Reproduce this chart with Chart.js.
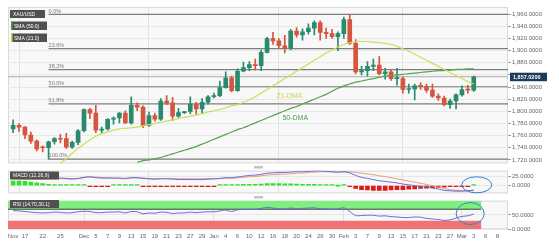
<!DOCTYPE html>
<html>
<head>
<meta charset="utf-8">
<script src="https://cdn.jsdelivr.net/npm/chart.js@4"></script>
<style>
html, body { margin: 0; padding: 0; background: #fff; }
#wrap { position: relative; width: 559px; height: 242px; overflow: hidden; }
canvas { position: absolute; left: 0; }
</style>
</head>
<body>
<div id="wrap">
  <canvas id="mainChart" width="559" height="168" style="top:0"></canvas>
  <canvas id="macdChart" width="559" height="32" style="top:166px"></canvas>
  <canvas id="rsiChart" width="559" height="46" style="top:196px"></canvas>
</div>
<script>
// daily candles, Nov 15 .. Mar 3 (weekdays)
const opens  = [1771,1777,1774,1761,1751,1741,1740,1750,1755,1755,1741,1749,
                1768,1803,1797,1769,1771,1787,1789,1797,1781,1810,1807,1777,1793,1787,1817,1814,1792,1798,1800,1812,1804,1815,
                1824,1826,1839,1855,1834,1866,1872,1877,1875,1897,1920,1916,1908,1904,1932,1926,1931,1937,1946,1930,1928,1923,
                1928,1951,1912,1865,1867,1874,1876,1862,1865,1854,1854,1836,1837,1842,1841,1835,1825,1822,1811,1817,
                1827,1836,1835];
const highs  = [1786,1780,1775,1766,1753,1743,1751,1757,1762,1764,1751,1770,
                1804,1805,1810,1774,1788,1791,1798,1801,1824,1814,1809,1799,1797,1821,1826,1823,1805,1800,1824,1815,1821,1826,
                1830,1850,1865,1858,1870,1881,1882,1886,1901,1922,1930,1920,1925,1935,1938,1936,1944,1949,1949,1937,1935,1931,
                1955,1959.7,1918,1874,1882,1886,1890,1871,1868,1871,1857,1845,1845,1847,1845,1845,1829,1825,1820,1829,
                1842,1843,1858];
const lows   = [1765,1767,1755,1747,1735,1733,1721.4,1746,1748,1739,1739,1745,
                1766,1788,1765,1765,1769,1779,1781,1780,1779,1801,1773,1775,1784,1785,1811,1785,1790,1796,1796,1795,1797,1812,
                1822,1824,1838,1832,1833,1865,1867,1868,1867,1896,1910,1905,1896,1901,1922,1917,1927,1926,1917,1920,1920,1900,
                1920,1910,1862,1860,1858,1867,1860,1853,1851,1843,1830,1830,1819,1836,1831,1823,1818,1809,1805,1804,
                1825,1830,1833];
const closes = [1777,1774,1761,1751,1738,1740,1750,1755,1754,1741,1749,1768,
                1803,1797,1769,1771,1787,1789,1797,1781,1810,1807,1777,1793,1787,1817,1814,1792,1798,1798,1812,1804,1815,1824,
                1826,1839,1855,1834,1866,1872,1877,1875,1897,1920,1916,1908,1904,1932,1926,1931,1937,1946,1930,1928,1923,1928,
                1951,1912,1865,1867,1874,1876,1862,1865,1854,1854,1836,1837,1842,1841,1835,1825,1822,1811,1817,1827,
                1836,1835,1857];

const sma21 = [null,null,null,null,null,null,null,null,1714,1722,1731,1739,
               1746,1753,1759,1763,1766,1769,1771,1772,1773,1774,1776,1778,1780,1782,1784,1786,1788,1790,1792,1794,1796,1799,
               1801,1803,1806,1809,1811,1815,1819,1824,1830,1836,1842,1848,1854,1860,1866,1872,1878,1884,1890,1896,1901,1906,
               1910,1913,1915,1915,1915,1914,1913,1912,1910,1907,1903,1899,1894,1889,1884,1879,1874,1869,1864,1859,
               1854,1849,1845];
const sma50 = [null,null,null,null,null,null,null,null,null,null,null,null,
               null,null,null,null,null,null,null,null,null,1716,1719,1720,1722,1724,1727,1730,1733,1736,1739,1742,1746,1750,
               1754,1758,1762,1766,1770,1773,1777,1781,1785,1789,1793,1797,1801,1805,1808,1812,1816,1820,1824,1828,1833,1838,
               1842,1845,1848,1850,1852,1854,1856,1858,1859,1860,1861,1862,1863,1864,1865,1866,1867,1867,1868,1869,
               1869,1870,1870];

const fibNames  = ['0.0%', '23.6%', '38.2%', '50.0%', '61.8%', '100.0%'];
const fibLevels = [1959.7, 1903.4, 1868.7, 1840.5, 1812.4, 1721.4];
const fibFromBar = 6;
const lastPrice = 1857.02;

const macdLine   = [30,30,28,26,24,22,21,20,20,19,18,19,
                    22,23,21,20,20,20,20,19,21,21,19,18,17,18,18,17,16,16,16,16,16,17,
                    18,19,21,21,23,25,27,28,30,33,34,35,35,36,37,37,38,39,39,38,37,36,
                    37,34,27,22,19,16,13,11,9,7,4,2,0,-2,-4,-7,-9,-13,-14,-15,
                    -15,-14,-12];
const signalLine = [18,18,17,17,17,17,18,18,18.5,18,17,18.5,
                    21,24,22.5,21.5,21,19.5,19,18,20,20.5,20,19,18.5,18.5,19,19,18.5,18.5,18.5,18,18,18.5,
                    18.5,18.5,19.5,19.5,20.5,22,23.5,24.5,26,28,29,30,30.5,31.5,33,33.5,35,36,37,37,36.5,36,
                    36.5,37,35,33,31,29,26,24,21,18,15,12,9,6,3,-1,-4,-8,-11,-13,
                    -13.5,-13.5,-13.5];
const macdHist   = [12,12,11,9,7,5,3,2,1.5,1,1,0.5,
                    1,-1,-1.5,-1.5,-1,0.5,1,1,1,0.5,-1,-1,-1.5,-0.5,-1,-2,-2.5,-2.5,-2.5,-2,-2,-1.5,
                    -0.5,0.5,1.5,1.5,2.5,3,3.5,3.5,4,5,5,5,4.5,4.5,4,3.5,3,3,2,1,0.5,0,
                    0.5,-3,-8,-11,-12,-13,-13,-13,-12,-11,-11,-10,-9,-8,-7,-6,-5,-4,-3,-2,
                    -1.5,-0.5,1.5];
const rsi        = [65,64,62,60,58,57,58,60,59,57,58,61,
                    63,62,58,58,60,60,61,57,62,61,54,57,56,60,59,55,57,57,60,58,60,61,
                    61,64,67,62,68,69,70,69,73,76,74,72,71,74,72,73,74,75,71,71,70,71,
                    75,62,48,48,49,49,46,47,44,43,41,41,43,42,38,36,34,31,33,39,
                    45,47,53];

const priceTicks = [1720,1740,1760,1780,1800,1820,1840,1860,1880,1900,1920,1940,1960];
const macdTicks = [0, 25];
const rsiTicks = [0, 50];
const tickText = ['Nov','17','22','25','Dec','5','7','9','13','15','19','21','23','27','29',
                  'Jan','4','6','10','12','16','18','20','24','26','30',
                  'Feb','3','7','9','13','15','17','21','23','27','Mar','3','6','8'];
const tickBar  = [0,2,5,8,12,14,16,18,20,22,24,26,28,30,32,34,36,38,40,42,44,46,48,50,52,54,
                  56,58,60,62,64,66,68,70,72,74,76,78,80,82];
const monthBars = [12, 34, 56, 76];

const X_MIN = -0.87, X_MAX = 83.8;
const GREEN = '#2a8a6c', RED = '#d6553f';
const FONT = '"Liberation Sans", Arial, sans-serif';
Chart.defaults.font.family = FONT;
Chart.defaults.font.size = 6;
Chart.defaults.color = '#666';
Chart.defaults.animation = false;

const bars = closes.map((c, i) => i);
const fmt = v => Number(v).toLocaleString('en-US', {minimumFractionDigits: 4, maximumFractionDigits: 4});

function xScale(showTicks) {
  return {
    type: 'linear', min: X_MIN, max: X_MAX, offset: false,
    afterBuildTicks: s => { s.ticks = (showTicks ? tickBar : monthBars).map(v => ({value: v})); },
    afterFit: s => { s.height = showTicks ? 10 : 0; },
    ticks: {
      display: showTicks, autoSkip: false, maxRotation: 0, padding: 3, color: '#666',
      callback: (v, k) => tickText[k]
    },
    grid: {
      drawTicks: false,
      color: c => (c.tick && monthBars.includes(c.tick.value)) ? '#e2e2e2' : 'rgba(0,0,0,0)'
    },
    border: { display: false }
  };
}
function yScale(min, max, list) {
  return {
    position: 'right', min, max,
    afterBuildTicks: s => { s.ticks = list.map(v => ({value: v})); },
    afterFit: s => { s.width = 51; },
    ticks: { padding: 1, color: '#666', callback: v => fmt(v) },
    grid: { color: '#e8e8e8', tickLength: 3, tickColor: '#999' },
    border: { display: false }
  };
}
const panelBg = {
  id: 'panelBg',
  beforeDraw(chart) {
    const a = chart.chartArea, ctx = chart.ctx;
    ctx.save();
    ctx.fillStyle = '#f8f8f8';
    ctx.fillRect(a.left, a.top, a.right - a.left, a.bottom - a.top);
    ctx.strokeStyle = '#d9d9d9';
    ctx.lineWidth = 1;
    ctx.strokeRect(a.left + 0.5, a.top + 0.5, a.right - a.left - 1, a.bottom - a.top - 1);
    ctx.restore();
  }
};
function tag(ctx, text, x, y, w, h, bg, mark) {
  ctx.fillStyle = bg;
  ctx.fillRect(x, y, w, h);
  if (mark) { ctx.fillStyle = mark; ctx.fillRect(x, y, 1.5, h); }
  ctx.fillStyle = '#fff';
  ctx.textAlign = 'left';
  ctx.textBaseline = 'middle';
  ctx.fillText(text, x + 3, y + h / 2 + 0.5);
}
function handle(ctx) {
  ctx.fillStyle = '#c4c4c4';
  ctx.fillRect(254, 0, 9, 2.5);
}

// ---------- main price panel ----------
const mainOverlay = {
  id: 'mainOverlay',
  afterDraw(chart) {
    const ctx = chart.ctx, x = chart.scales.x, y = chart.scales.y, a = chart.chartArea;
    ctx.save();
    ctx.font = '5.5px ' + FONT;
    ctx.fillStyle = '#7a7a7a';
    ctx.textAlign = 'left';
    ctx.textBaseline = 'bottom';
    fibLevels.forEach((v, k) => {
      ctx.fillText(fibNames[k], x.getPixelForValue(fibFromBar), y.getPixelForValue(v) - 0.5);
    });
    ctx.font = '7px ' + FONT;
    ctx.fillStyle = '#c2dc4a';
    ctx.fillText('21-DMA', x.getPixelForValue(44.6), y.getPixelForValue(1820));
    ctx.fillStyle = '#4e9e48';
    ctx.fillText('50-DMA', x.getPixelForValue(45.6), y.getPixelForValue(1783));
    ctx.font = '5px ' + FONT;
    tag(ctx, 'XAU/USD', a.left + 2, 10, 35, 8, '#505050');
    tag(ctx, 'SMA (50.0)', a.left + 3, 21.5, 36, 8.5, '#505050', '#4e9e48');
    tag(ctx, 'SMA (21.0)', a.left + 3, 33.5, 36, 8.5, '#505050', '#c2dc4a');
    ctx.font = 'bold 5.5px ' + FONT;
    tag(ctx, fmt(lastPrice), a.right + 2, y.getPixelForValue(lastPrice) - 4, 37, 8.5, '#1d3b5c');
    ctx.restore();
  }
};

const fibSets = fibLevels.map(v => ({
  type: 'line', order: 10,
  data: [{x: fibFromBar, y: v}, {x: X_MAX, y: v}],
  borderColor: '#7d7d7d', borderWidth: 1.2, pointRadius: 0
}));

new Chart(document.getElementById('mainChart'), {
  type: 'bar',
  data: {
    datasets: [
      { type: 'line', order: 0, data: bars.map(i => ({x: i, y: sma21[i]})),
        borderColor: '#c8e05c', borderWidth: 1.2, pointRadius: 0, tension: 0.3 },
      { type: 'line', order: 0, data: bars.map(i => ({x: i, y: sma50[i]})),
        borderColor: '#56a44c', borderWidth: 1.2, pointRadius: 0, tension: 0.3 },
      { order: 1, grouped: false, barThickness: 4, minBarLength: 1,
        data: bars.map(i => ({x: i, y: [opens[i], closes[i]]})),
        backgroundColor: c => closes[c.dataIndex] >= opens[c.dataIndex] ? GREEN : RED },
      { order: 2, grouped: false, barThickness: 1,
        data: bars.map(i => ({x: i, y: [lows[i], highs[i]]})),
        backgroundColor: c => closes[c.dataIndex] >= opens[c.dataIndex] ? GREEN : RED },
      { type: 'line', order: 9, data: [{x: X_MIN, y: lastPrice}, {x: X_MAX, y: lastPrice}],
        borderColor: '#aaaaaa', borderWidth: 1, pointRadius: 0 },
      ...fibSets
    ]
  },
  options: {
    responsive: false,
    layout: { padding: { left: 8, top: 7, right: 0, bottom: 2 } },
    plugins: { legend: { display: false }, tooltip: { enabled: false } },
    scales: { x: xScale(false), y: yScale(1714.3, 1971.8, priceTicks) }
  },
  plugins: [panelBg, mainOverlay]
});

// ---------- MACD panel ----------
const macdOverlay = {
  id: 'macdOverlay',
  afterDraw(chart) {
    const ctx = chart.ctx, x = chart.scales.x, y = chart.scales.y, a = chart.chartArea;
    ctx.save();
    handle(ctx);
    ctx.font = '5px ' + FONT;
    tag(ctx, 'MACD (12,26,9)', a.left + 2, 5.5, 49, 8, '#505050');
    ctx.strokeStyle = '#2f86c8';
    ctx.lineWidth = 1;
    ctx.beginPath();
    ctx.ellipse(x.getPixelForValue(78.5), y.getPixelForValue(2), 15, 8, 0, 0, Math.PI * 2);
    ctx.stroke();
    ctx.restore();
  }
};
new Chart(document.getElementById('macdChart'), {
  type: 'bar',
  data: {
    datasets: [
      { type: 'line', order: 0, data: bars.map(i => ({x: i, y: macdLine[i]})),
        borderColor: '#5f6fdc', borderWidth: 1, pointRadius: 0, tension: 0.3 },
      { type: 'line', order: 0, data: bars.map(i => ({x: i, y: signalLine[i]})),
        borderColor: '#f09a72', borderWidth: 1, pointRadius: 0, tension: 0.3 },
      { order: 1, barThickness: 4, minBarLength: 1,
        data: bars.map(i => ({x: i, y: macdHist[i]})),
        backgroundColor: c => macdHist[c.dataIndex] >= 0 ? '#2fe02f' : '#dd1a1a' }
    ]
  },
  options: {
    responsive: false,
    layout: { padding: { left: 8, top: 3.3, right: 0, bottom: 3 } },
    plugins: { legend: { display: false }, tooltip: { enabled: false } },
    scales: { x: xScale(false), y: yScale(-21, 40, macdTicks) }
  },
  plugins: [panelBg, macdOverlay]
});

// ---------- RSI panel ----------
const rsiOverlay = {
  id: 'rsiOverlay',
  afterDraw(chart) {
    const ctx = chart.ctx, x = chart.scales.x, y = chart.scales.y, a = chart.chartArea;
    ctx.save();
    handle(ctx);
    ctx.font = '5px ' + FONT;
    tag(ctx, 'RSI (14,70,30,1)', a.left + 2, 4, 49, 8, '#505050');
    ctx.strokeStyle = '#2f86c8';
    ctx.lineWidth = 1;
    ctx.beginPath();
    ctx.ellipse(x.getPixelForValue(77.4), y.getPixelForValue(55), 14, 11, 0, 0, Math.PI * 2);
    ctx.stroke();
    ctx.restore();
  }
};
const bandEnd = 79.3;
new Chart(document.getElementById('rsiChart'), {
  type: 'line',
  data: {
    datasets: [
      { order: 0, data: bars.map(i => ({x: i, y: rsi[i]})),
        borderColor: '#6a6ad6', borderWidth: 1, pointRadius: 0, tension: 0.3 },
      { order: 5, data: [{x: X_MIN, y: 70}, {x: bandEnd, y: 70}], fill: {value: 100},
        backgroundColor: '#7ff07f', borderColor: '#3d3d3d', borderWidth: 1, pointRadius: 0 },
      { order: 5, data: [{x: X_MIN, y: 30}, {x: bandEnd, y: 30}], fill: {value: 0},
        backgroundColor: '#f07373', borderWidth: 0, pointRadius: 0 }
    ]
  },
  options: {
    responsive: false,
    layout: { padding: { left: 8, top: 2.7, right: 0, bottom: 2.7 } },
    plugins: { legend: { display: false }, tooltip: { enabled: false } },
    scales: { x: xScale(true), y: yScale(0, 100, rsiTicks) }
  },
  plugins: [panelBg, rsiOverlay]
});
</script>
</body>
</html>
